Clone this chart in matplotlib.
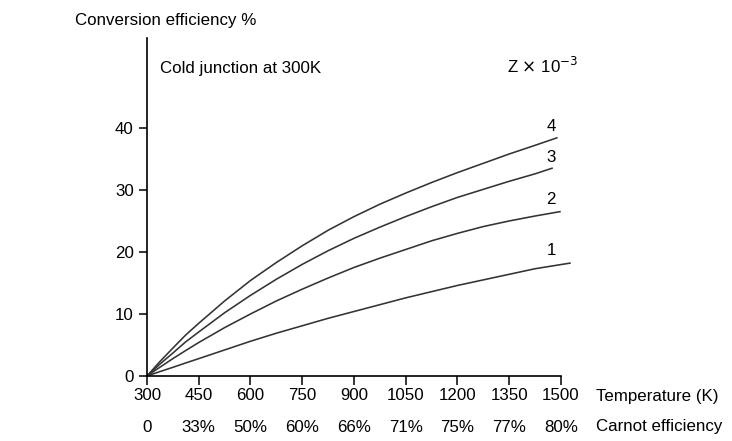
import matplotlib.pyplot as plt

plt.rcParams['font.family'] = ['Liberation Sans', 'DejaVu Sans']

# temperatures (K) and conversion efficiency (%), one curve per Z x 10^-3
temp_z4 = [300, 337, 375, 412, 450, 525, 600, 675, 750, 825, 900, 975, 1050, 1125, 1200, 1275, 1350, 1425, 1488]
eff_z4 = [0, 2.3, 4.5, 6.6, 8.5, 12.1, 15.4, 18.3, 21.0, 23.5, 25.7, 27.7, 29.5, 31.2, 32.8, 34.3, 35.8, 37.2, 38.4]

temp_z3 = [300, 337, 375, 412, 450, 525, 600, 675, 750, 825, 900, 975, 1050, 1125, 1200, 1275, 1350, 1425, 1474]
eff_z3 = [0, 1.9, 3.7, 5.5, 7.1, 10.2, 13.0, 15.6, 18.0, 20.2, 22.2, 24.0, 25.7, 27.3, 28.8, 30.1, 31.4, 32.6, 33.5]

temp_z2 = [300, 337, 375, 412, 450, 525, 600, 675, 750, 825, 900, 975, 1050, 1125, 1200, 1275, 1350, 1425, 1497]
eff_z2 = [0, 1.4, 2.8, 4.1, 5.4, 7.8, 10.0, 12.1, 14.0, 15.8, 17.5, 19.0, 20.4, 21.8, 23.0, 24.1, 25.0, 25.8, 26.5]

temp_z1 = [300, 337, 375, 412, 450, 525, 600, 675, 750, 825, 900, 975, 1050, 1125, 1200, 1275, 1350, 1425, 1526]
eff_z1 = [0, 0.7, 1.4, 2.1, 2.8, 4.2, 5.6, 6.9, 8.1, 9.3, 10.4, 11.5, 12.6, 13.6, 14.6, 15.5, 16.4, 17.3, 18.2]

curve_labels = ["4", "3", "2", "1"]
label_y = [40.2, 35.2, 28.4, 20.3]

temp_ticks = [300, 450, 600, 750, 900, 1050, 1200, 1350, 1500]
carnot_labels = ["0", "33%", "50%", "60%", "66%", "71%", "75%", "77%", "80%"]
eff_ticks = [0, 10, 20, 30, 40]

fs = 12.2

fig = plt.figure(figsize=(7.32, 4.41), dpi=100)
ax = fig.add_axes([0.2008, 0.1474, 0.5797, 0.7664])

curves = [(temp_z4, eff_z4), (temp_z3, eff_z3), (temp_z2, eff_z2), (temp_z1, eff_z1)]
for (t, e), lab, ly in zip(curves, curve_labels, label_y):
    ax.plot(t, e, color="#333333", lw=1.15, clip_on=False)
    ax.text(1471, ly, lab, ha="center", va="center", fontsize=fs)

ax.set_xlim(300, 1530)
ax.set_ylim(0, 54.5)
for s in ["top", "right"]:
    ax.spines[s].set_visible(False)
ax.spines["bottom"].set_bounds(300, 1500)
ax.spines["left"].set_linewidth(1.2)
ax.spines["bottom"].set_linewidth(1.2)

ax.set_xticks(temp_ticks)
ax.set_xticklabels([str(t) for t in temp_ticks])
ax.set_yticks(eff_ticks)
ax.tick_params(axis="both", direction="out", length=6.5, width=1.1, labelsize=fs, pad=2.5)
ax.tick_params(axis="y", length=6, pad=3.5)

# second row under the axis: Carnot efficiency
for t, c in zip(temp_ticks, carnot_labels):
    ax.text(t, -0.151, c, transform=ax.get_xaxis_transform(), ha="center", va="center",
            fontsize=fs)

fig.text(596 / 732, 1 - 397 / 441, "Temperature (K)", ha="left", va="center", fontsize=fs)
fig.text(596 / 732, 1 - 427 / 441, "Carnot efficiency", ha="left", va="center", fontsize=fs)
fig.text(75 / 732, 1 - 21 / 441, "Conversion efficiency %", ha="left", va="center", fontsize=fs)
fig.text(160 / 732, 1 - 68 / 441, "Cold junction at 300K", ha="left", va="center", fontsize=fs)
fig.text(507 / 732, 1 - 66 / 441, r"Z $\times$ 10$^{-3}$", ha="left", va="center", fontsize=fs)

fig.savefig("out.png", dpi=100)
